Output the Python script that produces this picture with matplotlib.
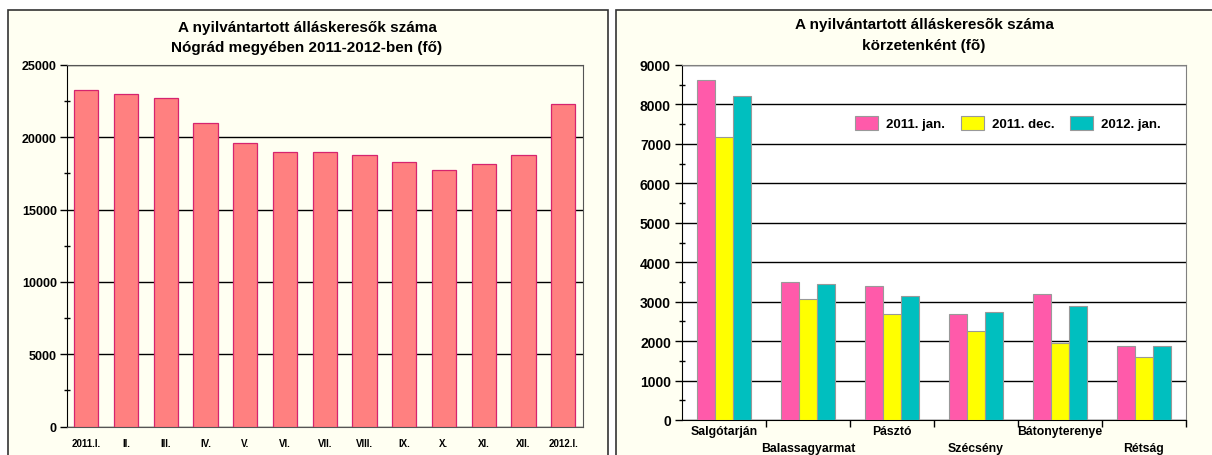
import numpy as np
import matplotlib.pyplot as plt
from matplotlib.patches import Rectangle
from matplotlib.ticker import MultipleLocator

plt.rcParams['font.family'] = ['Liberation Sans', 'DejaVu Sans']
plt.rcParams['font.weight'] = 'bold'

# left chart: monthly totals
months = ['2011.I.', 'II.', 'III.', 'IV.', 'V.', 'VI.', 'VII.', 'VIII.',
          'IX.', 'X.', 'XI.', 'XII.', '2012.I.']
totals = [23240, 22970, 22690, 20980, 19580, 19000, 19000, 18750,
          18280, 17710, 18120, 18750, 22280]

# right chart: by district
districts = ['Salgótarján', 'Balassagyarmat', 'Pásztó', 'Szécsény',
             'Bátonyterenye', 'Rétság']
series_names = ['2011. jan.', '2011. dec.', '2012. jan.']
jan2011 = [8620, 3510, 3400, 2680, 3190, 1870]
dec2011 = [7170, 3070, 2680, 2250, 1960, 1600]
jan2012 = [8210, 3440, 3140, 2730, 2890, 1870]

W, H = 1212, 456
fig = plt.figure(figsize=(W / 100, H / 100), dpi=100)
fig.patch.set_facecolor('white')

cream = '#FFFFF2'
# panel frames
fig.patches.append(Rectangle((8 / W, -0.05), 599.5 / W, 1.05 - 10.5 / H,
                             transform=fig.transFigure, facecolor=cream,
                             edgecolor='#333333', lw=1.2, zorder=-5))
fig.patches.append(Rectangle((615.5 / W, -0.05), 620 / W, 1.05 - 10.5 / H,
                             transform=fig.transFigure, facecolor=cream,
                             edgecolor='#333333', lw=1.2, zorder=-5))

# ---- left chart
ax1 = fig.add_axes([66.5 / W, (H - 427.5) / H, (583 - 66.5) / W, (427.5 - 66) / H])
ax1.set_facecolor(cream)
x = np.arange(len(months))
ax1.bar(x, totals, width=0.61, color='#FF8080', edgecolor='#D6246E', lw=0.9, zorder=3)
ax1.set_xlim(-0.5, len(months) - 0.5)
ax1.set_ylim(0, 25000)
ax1.yaxis.set_major_locator(MultipleLocator(5000))
ax1.yaxis.set_minor_locator(MultipleLocator(2500))
ax1.grid(axis='y', color='black', lw=1.0, zorder=1)
ax1.set_xticks(x)
ax1.set_xticklabels(months, fontsize=7, fontweight='bold')
ax1.tick_params(axis='x', length=0, pad=8)
ax1.tick_params(axis='y', which='major', labelsize=9, length=5, width=1, pad=2)
ax1.tick_params(axis='y', which='minor', length=5, width=1, direction='inout')
for side in ['top', 'right']:
    ax1.spines[side].set_color('#555555')
ax1.spines['left'].set_color('black')
ax1.spines['bottom'].set_color('#555555')

fig.text(307 / W, 1 - 28 / H, 'A nyilvántartott álláskeresők száma',
         ha='center', va='center', fontsize=11, fontweight='bold')
fig.text(307 / W, 1 - 48 / H, 'Nógrád megyében 2011-2012-ben (fő)',
         ha='center', va='center', fontsize=11, fontweight='bold')

# ---- right chart
ax2 = fig.add_axes([682 / W, (H - 421) / H, (1186 - 682) / W, (421 - 66) / H])
ax2.set_facecolor('white')
xd = np.arange(len(districts))
bw = 0.217
colors = ['#FF5AAA', '#FFFF00', '#00BFBF']
for i, (vals, name) in enumerate(zip([jan2011, dec2011, jan2012], series_names)):
    ax2.bar(xd + (i - 1) * bw, vals, width=bw, color=colors[i],
            edgecolor='#999999', lw=0.8, label=name, zorder=3)
ax2.set_xlim(-0.5, len(districts) - 0.5)
ax2.set_ylim(0, 9000)
ax2.yaxis.set_major_locator(MultipleLocator(1000))
ax2.yaxis.set_minor_locator(MultipleLocator(500))
ax2.grid(axis='y', color='black', lw=1.0, zorder=1)
ax2.set_xticks(xd + 0.5, minor=False)
ax2.set_xticklabels([])
ax2.tick_params(axis='x', length=5, width=1, direction='out')
ax2.tick_params(axis='y', which='major', labelsize=10, length=5, width=1, pad=3)
ax2.tick_params(axis='y', which='minor', length=5, width=1, direction='inout')
for side in ['top', 'right']:
    ax2.spines[side].set_color('#808080')
ax2.spines['left'].set_color('black')
ax2.spines['bottom'].set_color('black')
for i, name in enumerate(districts):
    yoff = -11 if i % 2 == 0 else -28
    ax2.annotate(name, (xd[i], 0), xycoords=('data', 'axes fraction'),
                 xytext=(0, yoff), textcoords='offset pixels',
                 ha='center', va='center', fontsize=8.8, fontweight='bold')

leg = ax2.legend(loc='center', bbox_to_anchor=((1008 - 682) / (1186 - 682), 1 - (124 - 66) / (421 - 66)),
                 ncol=3, frameon=False, fontsize=9.5, handlelength=1.75, handleheight=1.35,
                 columnspacing=1.2, handletextpad=0.6)

fig.text(924 / W, 1 - 25 / H, 'A nyilvántartott álláskeresõk száma',
         ha='center', va='center', fontsize=11, fontweight='bold')
fig.text(924 / W, 1 - 46 / H, 'körzetenként (fõ)',
         ha='center', va='center', fontsize=11, fontweight='bold')

fig.savefig('out.png', dpi=100)
